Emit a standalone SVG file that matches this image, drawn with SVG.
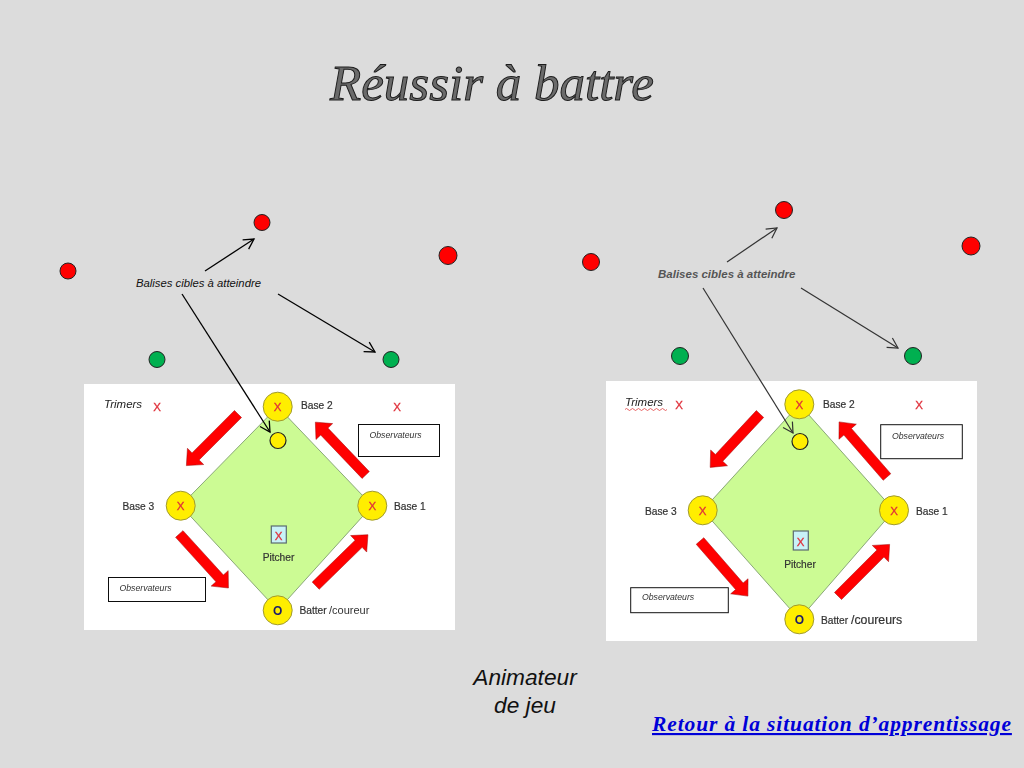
<svg xmlns="http://www.w3.org/2000/svg" width="1024" height="768" viewBox="0 0 1024 768">
<style>
text{font-family:"Liberation Sans",Arial,sans-serif}
.title{font-family:"Liberation Serif","Times New Roman",serif;font-style:italic;font-size:51px;fill:#6a6a6a;stroke:#1c1c1c;stroke-width:1}
.bl{font-style:italic;fill:#111}
.tr{font-size:11.5px;font-style:italic;fill:#222}
.ob{font-size:8.7px;font-style:italic;fill:#333}
.lb{font-size:10.2px;fill:#333;stroke:#333;stroke-width:.2}
.cr{font-size:11px;fill:#333}
.x{font-size:11.500px;fill:#e0303a;stroke:#e0303a;stroke-width:.3;text-anchor:middle}
.o{font-size:12px;font-weight:bold;fill:#1a1a6a;text-anchor:middle}
.panel{fill:#fff}
.field{fill:#ccfb94;stroke:#8aa878;stroke-width:1}
.base{fill:#ffee00;stroke:#a09a30;stroke-width:1}
.dot{fill:#ffee00;stroke:#222;stroke-width:1.2}
.red{fill:#f00;stroke:#222;stroke-width:1}
.green{fill:#00b050;stroke:#222;stroke-width:1}
.box{fill:#fff;stroke:#111;stroke-width:1}
.pit{fill:#c8f2f8;stroke:#5a6a70;stroke-width:1.2}
.c1{fill:none;stroke:#000;stroke-width:1.3;marker-end:url(#open)}
.c2{fill:none;stroke:#333;stroke-width:1.2;marker-end:url(#open2)}
.ra{fill:#f00;stroke:#a01010;stroke-width:.5}
</style>
<defs>
<filter id="soft1" x="0" y="0" width="1" height="1"><feGaussianBlur stdDeviation=".25"/></filter>
<filter id="soft2" x="0" y="0" width="1" height="1"><feGaussianBlur stdDeviation=".45"/></filter>
<marker id="open" markerUnits="userSpaceOnUse" markerWidth="16" markerHeight="16" refX="13" refY="8" orient="auto"><path d="M3 2.500L13 8L3 13.500" fill="none" stroke="#000" stroke-width="1.300"/></marker>
<marker id="open2" markerUnits="userSpaceOnUse" markerWidth="16" markerHeight="16" refX="13" refY="8" orient="auto"><path d="M3 2.500L13 8L3 13.500" fill="none" stroke="#333" stroke-width="1.200"/></marker>
<path id="bigarrow" d="M0-5H-60V-11.500L-73 0L-60 11.500V5H0Z" transform="rotate(180)"/>
</defs>
<rect width="1024" height="768" fill="#dcdcdc"/>
<g id="title"><text class="title" x="492" y="100" text-anchor="middle">Réussir à battre</text></g>
<g id="diagram-left" filter="url(#soft1)">
<g id="panel-left">
<rect class="panel" x="84" y="384" width="371" height="246"/>
<polygon class="field" points="277.700,406.700 372.300,505.700 277.700,610.300 180.700,505.700"/>
<g class="ra">
<use href="#bigarrow" transform="translate(238 414) rotate(135)"/>
<use href="#bigarrow" transform="translate(365.700 475) rotate(-133.600)"/>
<use href="#bigarrow" transform="translate(179.300 534) rotate(47.700)"/>
<use href="#bigarrow" transform="translate(315.700 585.700) rotate(-44.300)"/>
</g>
</g>
<g id="base2-left"><circle class="base" cx="277.700" cy="406.700" r="14.500"/><text class="x" x="277.700" y="411">X</text><text class="lb" x="301" y="409">Base 2</text></g>
<g id="base3-left"><circle class="base" cx="180.700" cy="505.700" r="14.500"/><text class="x" x="180.700" y="510">X</text><text class="lb" x="122.500" y="510">Base 3</text></g>
<g id="base1-left"><circle class="base" cx="372.300" cy="505.700" r="14.500"/><text class="x" x="372.300" y="510">X</text><text class="lb" x="394" y="510">Base 1</text></g>
<g id="batter-left"><circle class="base" cx="277.700" cy="610.300" r="14.500"/><text class="o" x="277.700" y="614.500">O</text><text class="lb" x="299.500" y="614">Batter</text><text class="cr" x="329" y="614">/coureur</text></g>
<g id="pitcher-left"><rect class="pit" x="271.300" y="526" width="15" height="17"/><text class="x" x="278.500" y="540">X</text><text class="lb" x="278.500" y="560.500" text-anchor="middle">Pitcher</text></g>
<g id="target-left"><circle class="dot" cx="278" cy="440.500" r="8"/></g>
<g id="trimers-left"><text class="tr" x="104" y="408">Trimers</text><text class="x" x="157" y="411">X</text><text class="x" x="397" y="411">X</text></g>
<g id="obs1-left"><rect class="box" x="358.500" y="424.500" width="81" height="32"/><text class="ob" x="369.500" y="438">Observateurs</text></g>
<g id="obs2-left"><rect class="box" x="108.500" y="577.500" width="97" height="24"/><text class="ob" x="119.500" y="591">Observateurs</text></g>
</g>
<g id="balises-left"><text class="bl" style="font-size:11.300px" x="136" y="287">Balises cibles à atteindre</text></g>
<g id="red-l1"><circle class="red" cx="262" cy="222.500" r="8"/></g>
<g id="red-l2"><circle class="red" cx="68" cy="271" r="8"/></g>
<g id="red-l3"><circle class="red" cx="448" cy="255.500" r="9"/></g>
<g id="green-l1"><circle class="green" cx="157" cy="359.500" r="8"/></g>
<g id="green-l2"><circle class="green" cx="391" cy="359.500" r="8"/></g>
<g id="diagram-right" filter="url(#soft2)">
<g id="panel-right">
<rect class="panel" x="606" y="381" width="371" height="260"/>
<polygon class="field" points="799.300,404.300 894,510.300 799.300,619.300 702.700,510.300"/>
<g class="ra">
<use href="#bigarrow" transform="translate(760 414) rotate(133)"/>
<use href="#bigarrow" transform="translate(887 477) rotate(-131)"/>
<use href="#bigarrow" transform="translate(700 541) rotate(49)"/>
<use href="#bigarrow" transform="translate(838 596) rotate(-45)"/>
</g>
</g>
<g id="base2-right"><circle class="base" cx="799.300" cy="404.300" r="14.500"/><text class="x" x="799.300" y="408.500">X</text><text class="lb" x="823" y="408">Base 2</text></g>
<g id="base3-right"><circle class="base" cx="702.700" cy="510.300" r="14.500"/><text class="x" x="702.700" y="514.500">X</text><text class="lb" x="645" y="514.500">Base 3</text></g>
<g id="base1-right"><circle class="base" cx="894" cy="510.300" r="14.500"/><text class="x" x="894" y="514.500">X</text><text class="lb" x="916" y="514.500">Base 1</text></g>
<g id="batter-right"><circle class="base" cx="799.300" cy="619.300" r="14.500"/><text class="o" x="799.300" y="623.500">O</text><text class="lb" x="821" y="624">Batter</text><text style="font-size:12.300px;fill:#333;stroke:#333;stroke-width:.2" x="851" y="624">/coureurs</text></g>
<g id="pitcher-right"><rect class="pit" x="793.300" y="531" width="15" height="19"/><text class="x" x="800.500" y="545.500">X</text><text class="lb" x="800" y="568" text-anchor="middle">Pitcher</text></g>
<g id="target-right"><circle class="dot" cx="800" cy="441.500" r="8"/></g>
<g id="trimers-right"><text class="tr" x="625" y="406">Trimers</text><path d="M625 409.500q1.500-2 3 0t3 0t3 0t3 0t3 0t3 0t3 0t3 0t3 0t3 0t3 0t3 0t3 0t3 0" fill="none" stroke="#e04040" stroke-width=".8"/><text class="x" x="679" y="409">X</text><text class="x" x="919" y="409">X</text></g>
<g id="obs1-right"><rect class="box" x="880.700" y="424.700" width="81.600" height="34"/><text class="ob" x="892" y="439">Observateurs</text></g>
<g id="obs2-right"><rect class="box" x="630.700" y="587.700" width="97.600" height="25"/><text class="ob" x="642" y="600">Observateurs</text></g>
</g>
<g id="balises-right"><text style="font-size:11.500px;font-style:italic;font-weight:bold;fill:#555" x="658" y="278">Balises cibles à atteindre</text></g>
<g id="red-r1"><circle class="red" cx="784" cy="210" r="8.500"/></g>
<g id="red-r2"><circle class="red" cx="591" cy="262" r="8.500"/></g>
<g id="red-r3"><circle class="red" cx="971" cy="246" r="9"/></g>
<g id="green-r1"><circle class="green" cx="680" cy="356" r="8.500"/></g>
<g id="green-r2"><circle class="green" cx="913" cy="356" r="8.500"/></g>
<g id="connectors">
<line class="c1" x1="205" y1="271" x2="254" y2="239"/>
<line class="c1" x1="278" y1="294" x2="375" y2="352"/>
<line class="c1" x1="182" y1="294" x2="270" y2="432"/>
<line class="c2" x1="727" y1="262" x2="777" y2="228"/>
<line class="c2" x1="801" y1="288" x2="898" y2="348"/>
<line class="c2" x1="703" y1="288" x2="793" y2="433"/>
</g>
<g id="animateur"><text style="font-size:22.700px;font-style:italic;fill:#111" text-anchor="middle"><tspan x="525" y="685">Animateur</tspan><tspan x="525" y="713">de jeu</tspan></text></g>
<g id="link"><text x="652" y="731" style="font-family:'Liberation Serif',serif;font-size:21.500px;font-style:italic;font-weight:bold;letter-spacing:.88px;fill:#0000d8;text-decoration:underline">Retour à la situation d’apprentissage</text></g>
</svg>
